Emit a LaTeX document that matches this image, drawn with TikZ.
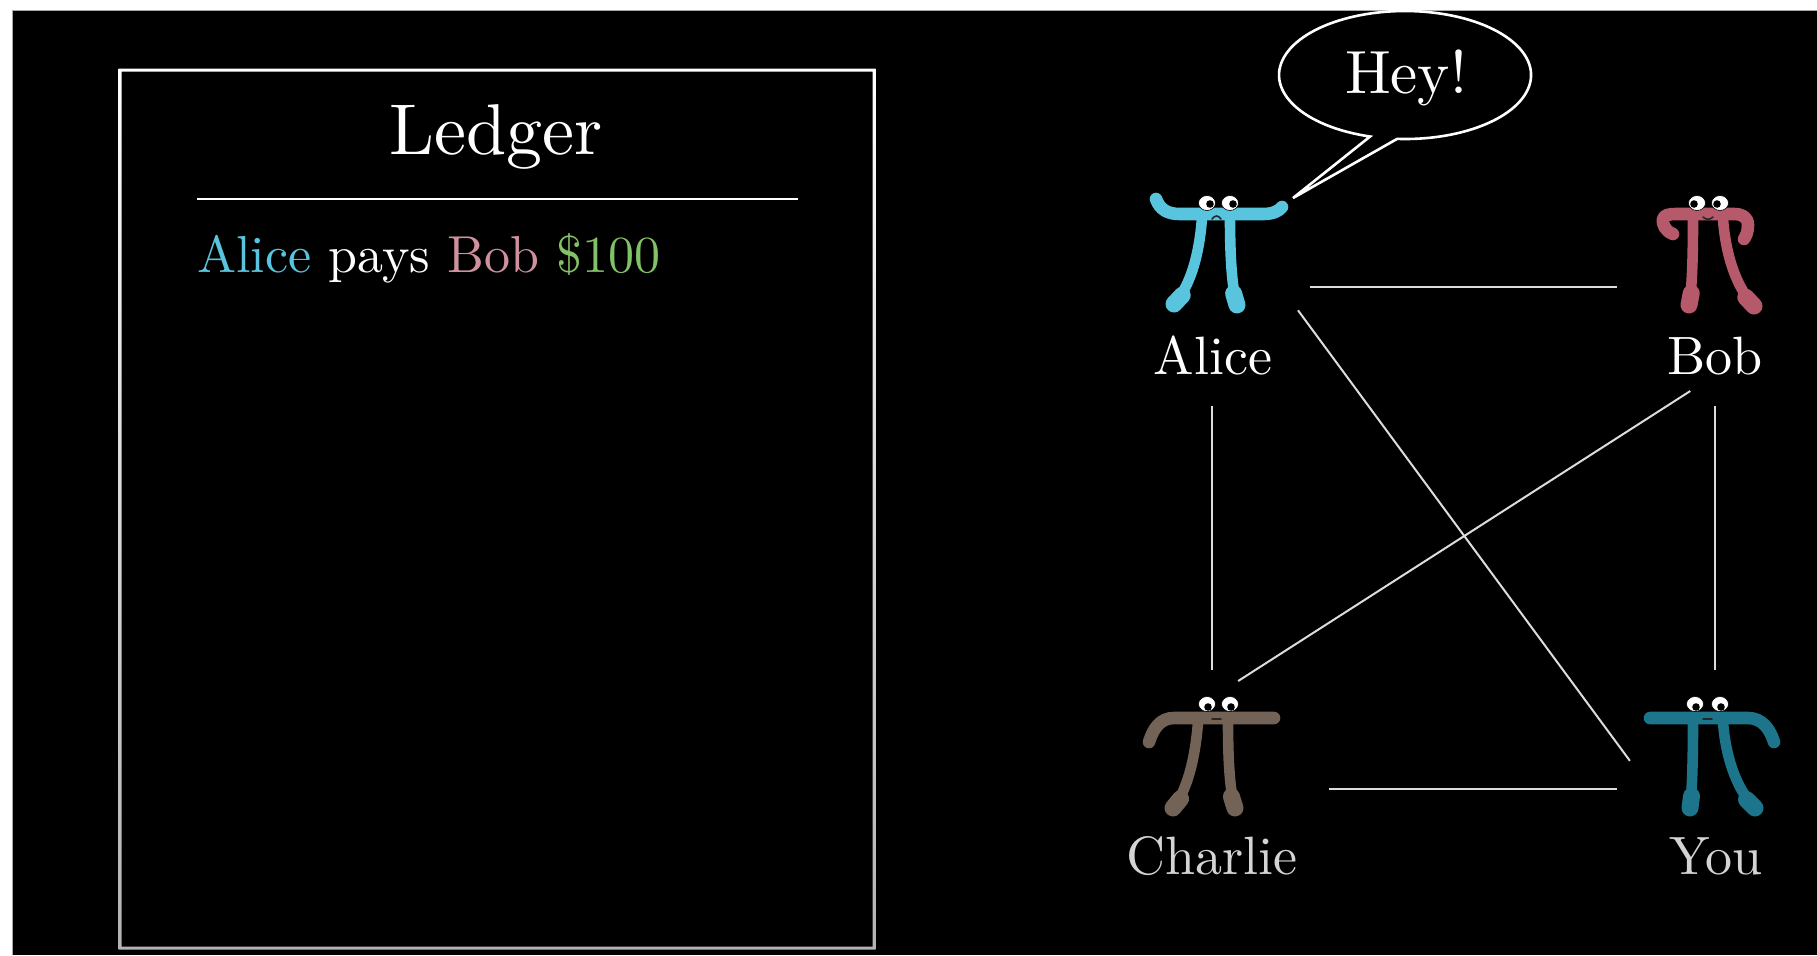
\documentclass[tikz,border=0pt]{standalone}
\usepackage{fontspec}
\setmainfont{lmroman10-regular.otf}
\usetikzlibrary{calc}

\definecolor{aliceblue}{HTML}{58C4DD}
\definecolor{bobpink}{HTML}{CF929D}
\definecolor{bobbody}{HTML}{B65A6B}
\definecolor{cashgreen}{HTML}{83C167}
\definecolor{charliebrown}{HTML}{736357}
\definecolor{youblue}{HTML}{1C758A}
\definecolor{edgegray}{HTML}{DCDCDC}
\definecolor{labelgray}{HTML}{D4D4D4}

\tikzset{
  link/.style={draw=edgegray, line width=1pt},
  personbox/.style={draw=none, rectangle, minimum width=98pt, minimum height=119pt,
    inner sep=0pt, outer sep=0pt},
  namelabel/.style={anchor=base, text=white, font=\fontsize{27}{30}\selectfont, inner sep=0pt},
  bar/.style={line width=6.3pt, line cap=round, line join=round},
  leg/.style={line width=5.3pt, line cap=round},
  foot/.style={line width=8.5pt, line cap=round},
  eye/.style={fill=white, draw=black, line width=0.3pt},
  pupil/.style={fill=black},
  mouth/.style={draw=black!85, line width=0.8pt, line cap=round},
}

% one leg of a pi creature: curved shank (#1 top, #2 and #3 controls, #4 foot)
\newcommand{\pileg}[4]{%
  \draw[leg] #1 .. controls #2 and #3 .. #4;
  \draw[foot] #4 -- ($#4!6pt!#3$);}

% a pair of eyes with pupils shifted by (dx,dy)
\newcommand{\pieyes}[3]{%
  \foreach \ex in {#1} {
    \filldraw[eye] (\ex) ellipse [x radius=8.5, y radius=7.5];
    \fill[pupil] ($(\ex)+(#2,#3)$) circle (3.8);
  }}

\begin{document}
\begin{tikzpicture}[x=0.5pt, y=-0.5pt]
\useasboundingbox (0,0) rectangle (1817,955);

% page and dark canvas
\fill[white] (0,0) rectangle (1817,955);
\fill[black] (12.5,10.5) rectangle (1817,955);
\draw[black!35, line width=0.6pt] (12.5,955) -- (12.5,10.5) -- (1817,10.5);

\begin{scope}
\clip (12.5,10.5) rectangle (1817,955);

% ---------- ledger ----------
\shade[top color=white, bottom color=black!30, even odd rule]
  (118.5,68.5) rectangle (875.5,949.5) (121.5,71.5) rectangle (872.5,946.5);
\node[anchor=base, text=white, inner sep=0pt, font=\fontsize{36}{40}\selectfont]
  (title) at (496,154) {Ledger};
\draw[white, line width=1pt] (197,199) -- (798,199);
\node[anchor=base west, inner sep=0pt, font=\fontsize{26}{30}\selectfont] (entry) at (197,272)
  {\textcolor{aliceblue}{Alice} \textcolor{white}{pays} \textcolor{bobpink}{Bob} \textcolor{cashgreen}{\$100}};

% ---------- people ----------
\node[personbox] (alice)   at (1212,287) {};
\node[personbox] (bob)     at (1715,287) {};
\node[personbox] (charlie) at (1212,789) {};
\node[personbox] (you)     at (1715,789) {};

\node[namelabel] (alicelabel) at (1213,374) {Alice};
\node[namelabel] (boblabel) at (1715,374) {Bob};
\node[namelabel, text=labelgray] (charlielabel) at (1212,874) {Charlie};
\node[namelabel, text=labelgray] (youlabel) at (1716,874) {You};

% Alice: arms flicked up
\begin{scope}[shift={(1215,208)}, aliceblue]
  \draw[bar] (-59,-9) .. controls (-55,2) and (-47,6) .. (-35,6) -- (48,6)
             .. controls (58,6) and (64,3) .. (67,-1);
  \pileg{(-13,10)}{(-16,50)}{(-26,80)}{(-41,96)}
  \pileg{(15,10)}{(15,50)}{(17,80)}{(22,97)}
  \pieyes{{-8,-5},{15,-5}}{3}{1}
  \draw[mouth] (-3,11) .. controls (0,7) and (3,7) .. (6,11);
\end{scope}

% Bob: both ends curled down
\begin{scope}[shift={(1708,209)}, bobbody]
  \draw[bar] (-35,25) .. controls (-43,22) and (-46,15) .. (-45,10)
             .. controls (-44,6) and (-39,5) .. (-32,5) -- (26,5)
             .. controls (34,5) and (40,8) .. (40,16)
             .. controls (40,23) and (38,27) .. (36,30);
  \pileg{(-15,10)}{(-15,50)}{(-16,80)}{(-19,96)}
  \pileg{(15,10)}{(18,50)}{(30,80)}{(46,97)}
  \pieyes{{-11,-6},{12,-6}}{-3}{1}
  \draw[mouth] (-5,8) .. controls (-2,11) and (2,11) .. (5,8);
\end{scope}

% Charlie: hook on the left
\begin{scope}[shift={(1212,712)}, charliebrown]
  \draw[bar] (-63,30) .. controls (-59,17) and (-52,6) .. (-38,6) -- (62,6);
  \pileg{(-14,10)}{(-17,50)}{(-26,80)}{(-39,96)}
  \pileg{(16,10)}{(16,50)}{(18,80)}{(23,96)}
  \pieyes{{-5,-8},{18,-8}}{1}{3}
  \draw[mouth] (0,7) -- (9,7);
\end{scope}

% You: hook on the right
\begin{scope}[shift={(1708,712)}, youblue]
  \draw[bar] (-58,6) -- (40,6) .. controls (54,6) and (62,17) .. (66,30);
  \pileg{(-15,10)}{(-15,50)}{(-16,80)}{(-18,96)}
  \pileg{(15,10)}{(18,50)}{(31,80)}{(47,96)}
  \pieyes{{-13,-8},{12,-8}}{1}{3}
  \draw[mouth] (-5,7) -- (4,7);
\end{scope}

% ---------- network links ----------
\draw[link] (alice.east) -- (bob.west);
\draw[link] (alice.south) -- (charlie.north);
\draw[link] (bob.south) -- (you.north);
\draw[link, shorten <=9.5pt] (charlie.east) -- (you.west);
\draw[link, shorten <=-10.1pt, shorten >=-10.9pt] (alice.-22.36) -- (you.155.05);
\draw[link, shorten <=-13.9pt, shorten >=-10.2pt] (bob.-112.95) -- (charlie.70.95);

% ---------- speech bubble ----------
\node[anchor=base, text=white, inner sep=0pt, font=\fontsize{30.5}{33}\selectfont]
  (hey) at (1406,93) {Hey!};
\coordinate (bubbletip) at (1293,198);
\draw[white, line width=1.3pt, line join=miter]
  (bubbletip) -- (1370.1,136.5)
  arc[start angle=106.1, end angle=453.6, x radius=126, y radius=64] -- cycle;

\end{scope}
\end{tikzpicture}
\end{document}
